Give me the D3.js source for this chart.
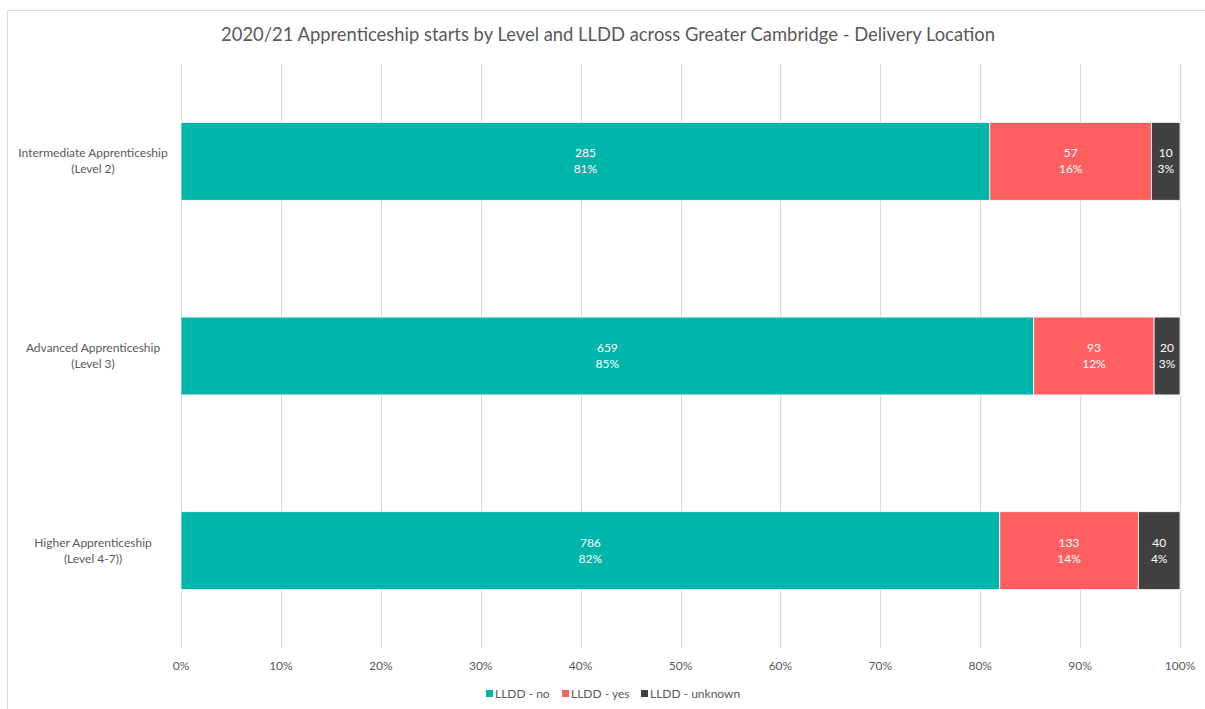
<!DOCTYPE html>
<html>
<head>
<meta charset="utf-8">
<script src="https://cdn.jsdelivr.net/npm/d3@7"></script>
<style>
  body { margin: 0; background: #fff; }
  text { font-family: Lato, "Open Sans", sans-serif; }
</style>
</head>
<body>
<div id="chart"></div>
<script>
// chart values
let levels = [
    ["Intermediate Apprenticeship", "(Level 2)"],
    ["Advanced Apprenticeship", "(Level 3)"],
    ["Higher Apprenticeship", "(Level 4-7))"]
]
let seriesNames = ["LLDD - no", "LLDD - yes", "LLDD - unknown"]
let lddNo = [285, 659, 786]
let lddYes = [57, 93, 133]
let lddUnknown = [10, 20, 40]
let colours = ["#00B5A9", "#FF5F5F", "#404040"]
let tickValues = [0, 0.1, 0.2, 0.3, 0.4, 0.5, 0.6, 0.7, 0.8, 0.9, 1]

let W = 1205, H = 709
let margin = { top: 64, right: 25, bottom: 61, left: 181 },
    width = 1180 - margin.left,
    height = 648 - margin.top

let svg = d3.select("#chart")
    .append("svg")
    .attr("width", W)
    .attr("height", H)

// outer frame
svg.append("rect")
    .attr("x", 7.5).attr("y", 10.5)
    .attr("width", W + 10).attr("height", H + 10)
    .attr("fill", "none")
    .attr("stroke", "#d9d9d9")

svg.append("text")
    .attr("x", 608).attr("y", 41)
    .attr("text-anchor", "middle")
    .attr("font-size", 18.4)
    .attr("fill", "#595959")
    .text("2020/21 Apprenticeship starts by Level and LLDD across Greater Cambridge - Delivery Location")

let g = svg.append("g").attr("transform", `translate(${margin.left},${margin.top})`)

let x = d3.scaleLinear().domain([0, 1]).range([0, width])
let y = d3.scaleBand().domain(d3.range(levels.length)).range([0, height]).paddingInner(0.6).paddingOuter(0.3)

// gridlines
g.selectAll(".grid")
    .data(tickValues)
    .join("line")
    .attr("x1", d => Math.round(x(d)) + 0.5)
    .attr("x2", d => Math.round(x(d)) + 0.5)
    .attr("y1", 0).attr("y2", height)
    .attr("stroke", "#d9d9d9")

// x tick labels
g.selectAll(".tick-label")
    .data(tickValues)
    .join("text")
    .attr("x", d => x(d))
    .attr("y", height + 22)
    .attr("text-anchor", "middle")
    .attr("font-size", 12)
    .attr("fill", "#595959")
    .text(d3.format(".0%"))

// stack rows
let rows = levels.map((l, i) => ({ no: lddNo[i], yes: lddYes[i], unknown: lddUnknown[i] }))
let keys = ["no", "yes", "unknown"]
let stacked = d3.stack().keys(keys).offset(d3.stackOffsetExpand)(rows)

stacked.forEach((layer, k) => {
    let grp = g.append("g")
    grp.selectAll("rect")
        .data(layer)
        .join("rect")
        .attr("x", d => x(d[0]))
        .attr("y", (d, i) => y(i))
        .attr("width", d => x(d[1]) - x(d[0]))
        .attr("height", y.bandwidth())
        .attr("fill", colours[k])
        .attr("stroke", "#fff")
        .attr("stroke-width", 0.75)

    let lbl = grp.selectAll("text")
        .data(layer)
        .join("text")
        .attr("text-anchor", "middle")
        .attr("font-size", 12)
        .attr("fill", "#fff")
    lbl.append("tspan")
        .attr("x", d => x((d[0] + d[1]) / 2))
        .attr("y", (d, i) => y(i) + y.bandwidth() / 2 - 4)
        .text(d => d.data[keys[k]])
    lbl.append("tspan")
        .attr("x", d => x((d[0] + d[1]) / 2))
        .attr("y", (d, i) => y(i) + y.bandwidth() / 2 + 12)
        .text(d => Math.round((d[1] - d[0]) * 100) + "%")
})

// category labels
levels.forEach((l, i) => {
    let t = g.append("text")
        .attr("text-anchor", "middle")
        .attr("font-size", 12)
        .attr("fill", "#595959")
    l.forEach((line, j) => {
        t.append("tspan")
            .attr("x", -88)
            .attr("y", y(i) + y.bandwidth() / 2 - 4 + j * 16)
            .text(line)
    })
})

// legend
let legendX = [486, 562, 641]
let legend = svg.append("g")
seriesNames.forEach((s, i) => {
    legend.append("rect")
        .attr("x", legendX[i]).attr("y", 690)
        .attr("width", 7).attr("height", 7)
        .attr("fill", colours[i])
    legend.append("text")
        .attr("x", legendX[i] + 9).attr("y", 698)
        .attr("font-size", 12)
        .attr("fill", "#595959")
        .text(s)
})
</script>
</body>
</html>
